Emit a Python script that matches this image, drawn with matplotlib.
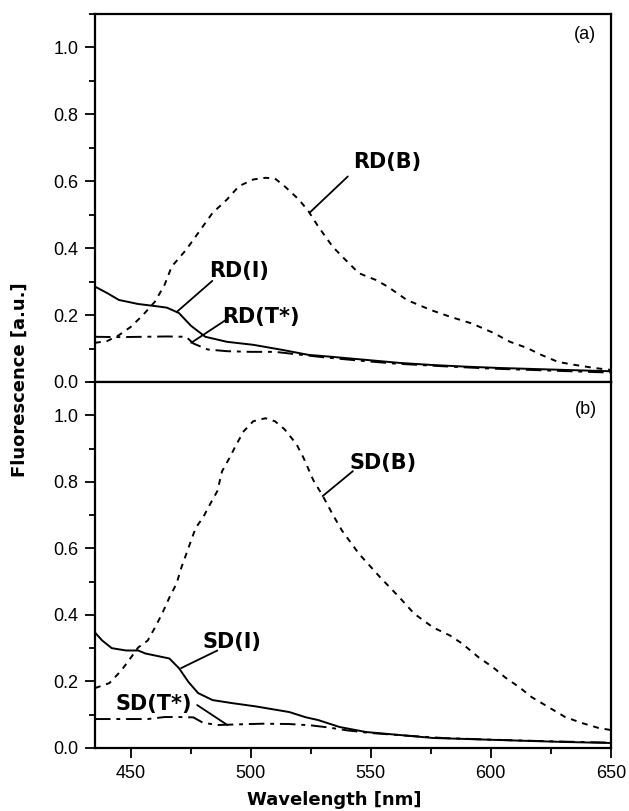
import numpy as np
import matplotlib.pyplot as plt
from matplotlib.ticker import MultipleLocator

# ---- data ----
# panel (a)
rd_b_x = [435, 440, 445, 450, 455, 460, 464, 467, 473, 478, 484, 490, 495, 501, 506, 510, 514,
          520, 524, 528, 534, 538, 545, 552, 557, 565, 575, 583, 592, 601, 608, 615, 621, 628, 635, 643, 650]
rd_b_y = [0.117, 0.122, 0.14, 0.165, 0.2, 0.24, 0.29, 0.345, 0.395, 0.445, 0.505, 0.545, 0.585, 0.605, 0.61,
          0.608, 0.585, 0.545, 0.51, 0.465, 0.405, 0.375, 0.325, 0.305, 0.285, 0.245, 0.215, 0.195, 0.175,
          0.147, 0.12, 0.102, 0.081, 0.06, 0.051, 0.042, 0.036]
rd_i_x = [435, 440, 445, 453, 462, 465, 470, 475, 481, 490, 501, 513, 524, 534, 548, 562, 575, 589, 603, 617, 631, 650]
rd_i_y = [0.285, 0.266, 0.245, 0.233, 0.225, 0.222, 0.206, 0.168, 0.135, 0.12, 0.111, 0.096, 0.081, 0.075,
          0.066, 0.057, 0.051, 0.046, 0.042, 0.039, 0.036, 0.032]
rd_t_x = [435, 445, 455, 465, 473, 476, 482, 490, 500, 510, 520, 530, 545, 560, 580, 600, 625, 650]
rd_t_y = [0.135, 0.134, 0.135, 0.136, 0.135, 0.115, 0.097, 0.092, 0.09, 0.09, 0.082, 0.074, 0.064, 0.055,
          0.047, 0.04, 0.034, 0.028]

# panel (b)
sd_b_x = [435, 441, 446, 450, 453, 457, 460, 463, 466, 469, 471, 474, 477, 480, 483, 486, 488, 491, 494,
          497, 501, 506, 510, 514, 519, 522, 526, 530, 534, 538, 545, 554, 562, 568, 576, 583, 588, 595,
          601, 606, 612, 617, 624, 631, 638, 645, 650]
sd_b_y = [0.18, 0.195, 0.233, 0.272, 0.302, 0.323, 0.362, 0.404, 0.452, 0.494, 0.542, 0.602, 0.662, 0.692,
          0.733, 0.772, 0.832, 0.871, 0.913, 0.952, 0.982, 0.991, 0.982, 0.958, 0.913, 0.871, 0.805, 0.757,
          0.703, 0.653, 0.584, 0.512, 0.452, 0.404, 0.362, 0.338, 0.314, 0.272, 0.242, 0.212, 0.182, 0.153,
          0.123, 0.093, 0.075, 0.06, 0.054]
sd_i_x = [435, 438, 442, 448, 453, 456, 460, 466, 470, 474, 478, 484, 492, 502, 516, 523, 528, 537, 548,
          562, 576, 590, 603, 617, 631, 650]
sd_i_y = [0.347, 0.323, 0.3, 0.293, 0.293, 0.284, 0.278, 0.269, 0.24, 0.198, 0.165, 0.144, 0.135, 0.125,
          0.108, 0.092, 0.084, 0.063, 0.048, 0.039, 0.03, 0.027, 0.024, 0.021, 0.018, 0.015]
sd_t_x = [435, 445, 457, 464, 470, 476, 480, 486, 495, 505, 516, 525, 532, 540, 550, 565, 580, 600, 625, 650]
sd_t_y = [0.087, 0.087, 0.087, 0.093, 0.093, 0.092, 0.076, 0.069, 0.071, 0.073, 0.072, 0.068, 0.062,
          0.053, 0.045, 0.037, 0.03, 0.025, 0.02, 0.016]

tick_font = 'Liberation Sans'
bold_font = 'DejaVu Sans'

fig = plt.figure(figsize=(6.29, 8.11), dpi=100)
ax1 = fig.add_axes([0.151, 0.529, 0.820, 0.454])
ax2 = fig.add_axes([0.151, 0.0777, 0.820, 0.4513])

dash = (0, (3, 3))
dashdot = (0, (8, 3, 2, 3))

ax1.plot(rd_b_x, rd_b_y, color='k', lw=1.4, linestyle=dash)
ax1.plot(rd_i_x, rd_i_y, color='k', lw=1.4)
ax1.plot(rd_t_x, rd_t_y, color='k', lw=1.4, linestyle=dashdot)

ax2.plot(sd_b_x, sd_b_y, color='k', lw=1.4, linestyle=dash)
ax2.plot(sd_i_x, sd_i_y, color='k', lw=1.4)
ax2.plot(sd_t_x, sd_t_y, color='k', lw=1.4, linestyle=dashdot)

for ax in (ax1, ax2):
    ax.set_xlim(435, 650)
    ax.set_ylim(0, 1.1)
    ax.xaxis.set_major_locator(MultipleLocator(50))
    ax.xaxis.set_minor_locator(MultipleLocator(25))
    ax.yaxis.set_major_locator(MultipleLocator(0.2))
    ax.yaxis.set_minor_locator(MultipleLocator(0.1))
    ax.tick_params(which='major', direction='out', length=7, width=1.3, pad=5,
                   labelsize=13, top=False, right=False)
    ax.tick_params(which='minor', direction='out', length=4, width=1.3, top=False, right=False)
    for s in ax.spines.values():
        s.set_linewidth(1.6)
    for lab in ax.get_xticklabels() + ax.get_yticklabels():
        lab.set_fontfamily(tick_font)
    ax.set_yticks([0.0, 0.2, 0.4, 0.6, 0.8, 1.0])
    ax.set_yticklabels(['0.0', '0.2', '0.4', '0.6', '0.8', '1.0'], fontfamily=tick_font, fontsize=13)

ax1.tick_params(axis='x', labelbottom=False)
ax2.set_xticks([450, 500, 550, 600, 650])
ax2.set_xticklabels(['450', '500', '550', '600', '650'], fontfamily=tick_font, fontsize=13)

lbl = dict(fontsize=15, fontweight='bold', fontfamily=bold_font, ha='left', va='baseline')
lead = dict(arrowstyle='-', lw=1.3, color='k', shrinkA=0, shrinkB=0)

# panel (a) labels
ax1.text(542.5, 0.64, 'RD(B)', **lbl)
ax1.annotate('', xy=(524.5, 0.506), xytext=(540.4, 0.614), arrowprops=lead)
ax1.text(482.6, 0.314, 'RD(I)', **lbl)
ax1.annotate('', xy=(469.2, 0.21), xytext=(483.9, 0.302), arrowprops=lead)
ax1.text(488.1, 0.177, 'RD(T*)', **lbl)
ax1.annotate('', xy=(475.1, 0.117), xytext=(489.7, 0.186), arrowprops=lead)
ax1.text(643.7, 1.024, '(a)', fontsize=13, fontfamily=tick_font, ha='right', va='baseline')

# panel (b) labels
ax2.text(541.2, 0.838, 'SD(B)', **lbl)
ax2.annotate('', xy=(529.9, 0.757), xytext=(542.5, 0.832), arrowprops=lead)
ax2.text(479.7, 0.299, 'SD(I)', **lbl)
ax2.annotate('', xy=(470.9, 0.24), xytext=(486.0, 0.293), arrowprops=lead)
ax2.text(443.7, 0.114, 'SD(T*)', **lbl)
ax2.annotate('', xy=(490.2, 0.069), xytext=(477.6, 0.129), arrowprops=lead)
ax2.text(644.2, 1.003, '(b)', fontsize=13, fontfamily=tick_font, ha='right', va='baseline')

fig.text(0.032, 0.532, 'Fluorescence [a.u.]', rotation=90, ha='center', va='center',
         fontsize=13, fontweight='bold', fontfamily=bold_font)
fig.text(0.532, 0.014, 'Wavelength [nm]', ha='center', va='center',
         fontsize=13, fontweight='bold', fontfamily=bold_font)

fig.savefig('out.png', dpi=100)
